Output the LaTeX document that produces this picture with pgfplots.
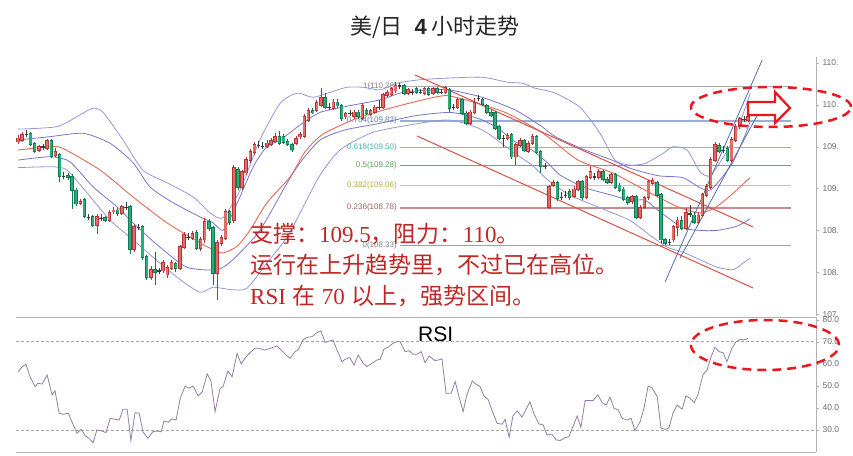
\documentclass[border=0pt]{standalone}
\usepackage{pgfplots}
\pgfplotsset{compat=1.18}
\usepackage{pgfplotstable}
\usepackage{fontspec}
\setmainfont{Liberation Sans}
\newfontfamily\cjk{Noto Sans CJK SC}
\newfontfamily\serif{Liberation Serif}
\definecolor{upfill}{RGB}{228,108,102}
\definecolor{upline}{RGB}{180,50,50}
\definecolor{dnfill}{RGB}{38,175,120}
\definecolor{dnline}{RGB}{18,120,82}
\definecolor{dojic}{RGB}{60,60,60}
\definecolor{bandout}{RGB}{150,150,215}
\definecolor{bandin}{RGB}{118,118,205}
\definecolor{mac}{RGB}{228,105,85}
\definecolor{chanred}{RGB}{215,80,70}
\definecolor{trendblue}{RGB}{80,110,170}
\definecolor{rsic}{RGB}{150,125,165}
\definecolor{annot}{RGB}{192,38,38}
\definecolor{ellred}{RGB}{230,25,30}
\definecolor{fibsix}{RGB}{150,175,210}
\definecolor{fibsixt}{RGB}{90,125,185}
\definecolor{fibsev}{RGB}{110,200,200}
\definecolor{fibsevt}{RGB}{70,175,175}
\definecolor{fibhalf}{RGB}{90,180,90}
\definecolor{fibhalft}{RGB}{80,165,80}
\definecolor{fibthr}{RGB}{205,205,110}
\definecolor{fibthrt}{RGB}{175,175,70}
\definecolor{fibtwo}{RGB}{200,140,140}
\definecolor{fibtwot}{RGB}{165,95,95}
\definecolor{fibone}{RGB}{170,170,170}
\definecolor{fibzero}{RGB}{160,160,160}

% rising candles (close above open)
\pgfplotstableread{
i o h l c
0 109.56 109.64 109.53 109.60
1 109.58 109.68 109.56 109.64
5 109.46 109.52 109.44 109.50
7 109.48 109.59 109.46 109.57
9 109.40 109.48 109.38 109.44
15 108.83 108.87 108.80 108.84
19 108.56 108.70 108.46 108.66
22 108.62 108.74 108.60 108.71
23 108.73 108.78 108.70 108.74
25 108.71 108.80 108.68 108.78
28 108.28 108.56 108.24 108.54
32 107.94 108.08 107.91 108.03
35 108.02 108.15 107.99 108.11
36 107.97 108.09 107.93 108.05
37 108.05 108.15 108.03 108.11
39 108.05 108.33 108.03 108.30
40 108.30 108.48 108.28 108.45
42 108.41 108.49 108.39 108.46
44 108.29 108.42 108.25 108.39
45 108.39 108.65 108.35 108.60
48 107.99 108.39 107.67 108.35
49 108.35 108.45 108.31 108.41
50 108.41 108.76 108.39 108.72
52 108.62 109.28 108.59 109.25
54 109.02 109.22 108.98 109.20
55 109.19 109.38 109.16 109.34
56 109.34 109.47 109.31 109.44
57 109.44 109.56 109.40 109.52
60 109.51 109.58 109.48 109.54
61 109.53 109.60 109.51 109.57
62 109.57 109.66 109.54 109.62
67 109.54 109.63 109.52 109.60
68 109.62 109.68 109.59 109.64
69 109.63 109.89 109.60 109.86
70 109.82 109.96 109.80 109.93
72 109.94 110.06 109.91 110.02
73 110.00 110.20 109.97 110.08
76 109.96 110.07 109.94 110.03
79 109.86 109.91 109.83 109.89
81 109.86 109.94 109.83 109.91
83 109.84 110.02 109.82 109.99
85 109.89 109.95 109.87 109.93
86 109.91 110.00 109.89 109.97
88 109.97 110.14 109.95 110.12
89 110.12 110.18 110.09 110.14
90 110.13 110.21 110.11 110.19
91 110.17 110.27 110.14 110.23
94 110.14 110.20 110.12 110.18
98 110.14 110.21 110.12 110.19
100 110.14 110.21 110.12 110.19
103 110.15 110.23 110.13 110.20
106 109.97 110.08 109.95 110.06
109 109.78 109.94 109.76 109.91
110 109.91 110.08 109.89 110.03
118 109.60 109.66 109.58 109.63
120 109.38 109.54 109.28 109.52
121 109.52 109.60 109.50 109.57
123 109.45 109.57 109.42 109.54
124 109.54 109.65 109.52 109.62
128 108.78 109.04 108.76 109.02
129 109.04 109.10 109.02 109.07
134 108.91 109.03 108.89 108.99
135 108.99 109.10 108.97 109.08
137 108.90 109.16 108.87 109.14
138 109.14 109.27 109.11 109.20
140 109.14 109.23 109.11 109.20
143 109.08 109.19 109.05 109.16
148 108.85 108.92 108.82 108.90
150 108.66 108.80 108.64 108.77
151 108.78 108.91 108.76 108.89
152 108.90 109.10 108.87 109.08
153 109.07 109.13 109.04 109.09
158 108.39 108.56 108.36 108.54
159 108.54 108.66 108.43 108.62
161 108.53 108.77 108.50 108.71
164 108.60 108.72 108.58 108.68
165 108.68 108.95 108.66 108.92
166 108.92 109.05 108.90 109.02
167 109.02 109.38 108.99 109.34
168 109.34 109.56 109.32 109.52
172 109.34 109.62 109.32 109.58
173 109.58 109.77 109.56 109.74
174 109.74 109.86 109.71 109.83
176 109.82 109.88 109.80 109.86
}\upc

% falling candles (close below open)
\pgfplotstableread{
i o h l c
3 109.65 109.68 109.51 109.53
4 109.53 109.56 109.42 109.45
8 109.57 109.59 109.37 109.39
10 109.40 109.42 109.08 109.15
12 109.15 109.19 109.10 109.14
13 109.14 109.17 108.76 108.98
14 108.98 109.01 108.79 108.82
16 108.87 108.89 108.65 108.67
18 108.66 108.68 108.54 108.56
21 108.65 108.67 108.60 108.62
24 108.74 108.77 108.67 108.71
27 108.78 108.80 108.22 108.28
30 108.54 108.56 108.15 108.18
31 108.18 108.21 107.91 107.94
33 108.03 108.24 107.85 108.00
38 108.10 108.12 108.00 108.05
43 108.47 108.50 108.27 108.29
46 108.60 108.64 108.49 108.53
47 108.53 108.55 107.85 107.99
51 108.72 108.74 108.56 108.60
53 109.22 109.26 108.98 109.02
63 109.62 109.69 109.52 109.54
64 109.62 109.65 109.53 109.56
65 109.56 109.59 109.51 109.53
66 109.52 109.54 109.44 109.47
71 109.93 109.96 109.89 109.91
74 110.08 110.14 109.95 109.97
77 110.03 110.07 109.96 109.99
78 109.99 110.01 109.81 109.84
82 109.91 109.94 109.83 109.86
84 109.93 109.96 109.88 109.90
93 110.23 110.25 110.12 110.14
96 110.19 110.21 110.13 110.15
99 110.19 110.21 110.11 110.13
101 110.19 110.21 110.13 110.15
104 110.18 110.20 109.91 109.96
107 110.06 110.08 109.88 109.90
108 109.90 109.93 109.76 109.78
112 110.06 110.08 109.99 110.01
113 109.99 110.01 109.89 109.91
114 109.91 109.94 109.86 109.88
115 109.90 109.93 109.70 109.72
116 109.74 109.76 109.58 109.60
119 109.64 109.66 109.35 109.38
122 109.57 109.59 109.44 109.46
125 109.62 109.64 109.41 109.44
126 109.44 109.46 109.19 109.27
130 109.07 109.09 108.85 108.89
133 108.96 108.99 108.86 108.90
136 109.08 109.10 108.87 108.90
141 109.20 109.22 109.09 109.11
142 109.11 109.14 109.05 109.08
144 109.16 109.19 108.99 109.02
145 109.04 109.07 108.96 108.98
146 108.99 109.02 108.85 108.87
147 108.89 108.91 108.80 108.84
149 108.90 108.92 108.64 108.66
154 109.07 109.09 108.90 108.92
155 108.92 108.95 108.35 108.39
156 108.39 108.41 108.33 108.35
160 108.62 108.67 108.50 108.53
163 108.68 108.72 108.58 108.60
169 109.51 109.54 109.42 109.45
171 109.48 109.51 109.32 109.34
}\dnc

% doji candles (open = close)
\pgfplotstableread{
i o h l c
2 109.65 109.70 109.62 109.65
6 109.50 109.53 109.46 109.50
11 109.15 109.20 109.11 109.15
17 108.66 108.70 108.62 108.66
20 108.65 108.70 108.61 108.65
26 108.78 108.84 108.74 108.78
29 108.54 108.58 108.50 108.54
34 108.02 108.05 107.98 108.02
41 108.42 108.47 108.39 108.42
58 109.52 109.57 109.48 109.52
59 109.51 109.56 109.47 109.51
75 109.97 110.02 109.94 109.97
80 109.90 109.94 109.87 109.90
87 109.97 110.06 109.94 109.97
92 110.23 110.26 110.19 110.23
95 110.15 110.19 110.12 110.15
97 110.15 110.19 110.13 110.15
102 110.15 110.19 110.13 110.15
105 109.97 110.01 109.94 109.97
111 110.08 110.12 110.05 110.08
117 109.60 109.64 109.50 109.60
127 109.27 109.31 109.23 109.27
131 108.90 108.96 108.86 108.90
132 108.92 108.97 108.89 108.92
139 109.14 109.19 109.10 109.14
157 108.36 108.40 108.33 108.36
162 108.70 108.80 108.66 108.70
170 109.46 109.51 109.42 109.46
175 109.83 109.87 109.80 109.83
}\dojit

\pgfplotstableread{
i r
0.0 56.4
1.0 58.7
1.9 59.8
2.9 54.1
4.1 49.6
4.8 51.2
5.8 50.8
7.0 54.9
8.2 45.9
8.9 47.8
9.9 37.6
10.8 37.1
12.1 37.6
13.3 32.3
14.2 28.5
15.2 30.3
16.2 27.3
17.1 26.2
18.1 24.2
19.0 30.0
20.3 29.5
21.2 28.8
22.2 35.3
23.4 34.8
24.4 34.5
25.3 39.4
26.3 39.4
27.2 25.2
28.2 37.8
29.2 37.6
30.1 29.2
31.3 26.2
32.5 29.2
33.5 29.5
34.5 29.2
35.2 34.1
36.2 33.5
37.1 35.0
38.1 34.5
39.1 44.4
40.3 49.9
41.2 48.9
42.2 49.9
43.4 45.4
44.4 47.3
45.6 55.4
46.5 52.3
47.5 38.3
48.7 48.9
49.4 49.6
50.6 56.7
51.6 54.1
52.8 64.7
53.8 59.9
54.7 62.5
55.9 65.0
57.1 67.0
58.1 67.0
59.5 66.2
60.8 67.0
62.4 68.1
63.6 65.9
64.6 64.0
65.6 62.5
66.8 65.5
67.5 66.2
68.7 70.8
69.7 72.0
70.9 72.3
71.8 73.8
73.0 75.0
74.0 69.7
74.7 70.0
75.9 70.8
76.9 66.2
78.1 60.9
78.8 62.0
80.0 62.8
81.0 59.4
82.0 64.0
83.2 60.2
84.1 58.7
85.3 60.2
86.5 61.7
87.3 62.0
88.2 66.6
89.2 67.5
90.4 69.3
91.4 70.0
92.1 70.0
93.3 65.5
94.3 65.9
95.2 64.3
96.2 64.3
97.2 65.5
98.1 60.5
99.1 63.5
100.5 61.4
101.3 61.7
102.2 62.2
103.2 46.6
104.4 46.6
105.4 51.9
106.3 45.1
107.3 38.3
108.2 45.9
109.5 52.2
110.4 50.8
111.4 49.6
112.3 45.4
113.3 43.9
114.5 37.6
115.5 33.0
116.7 32.6
117.4 34.8
118.4 26.7
119.3 36.3
120.3 38.6
121.5 35.8
122.5 39.4
123.4 42.8
124.4 37.2
125.6 32.7
126.6 32.3
127.5 27.7
128.7 28.1
129.7 25.5
130.7 25.2
131.9 26.5
132.8 27.0
133.8 31.5
134.8 36.3
135.7 31.2
136.7 43.3
137.7 43.3
138.6 43.3
139.8 45.9
140.8 42.4
141.8 41.3
142.7 44.8
143.7 39.8
144.7 39.1
145.6 35.3
146.8 34.5
147.8 35.3
148.7 29.7
150.0 33.8
150.9 39.8
151.9 49.9
152.8 49.2
154.1 45.1
155.0 30.8
156.0 30.3
156.9 30.8
157.9 37.6
158.9 41.3
160.1 39.4
161.0 45.4
162.0 44.4
163.0 42.4
163.9 45.9
165.1 54.9
166.1 57.2
167.1 63.2
168.0 67.5
169.0 65.5
170.0 65.0
170.9 60.9
172.1 67.0
173.1 70.0
174.1 71.1
175.0 70.8
176.0 71.5
}\rsidata

% #1 table, #2 colour
\newcommand{\cwick}[2]{%
\addplot[draw=none, mark=none, forget plot,
  error bars/.cd, y dir=both, y explicit, error mark=none,
  error bar style={solid, line width=0.6pt, draw=#2}]
  table[x=i, y expr=(\thisrow{h}+\thisrow{l})/2, y error expr=(\thisrow{h}-\thisrow{l})/2]{#1};}
% #1 table, #2 colour, #3 width, #4 extra half height
\newcommand{\cbody}[4]{%
\addplot[draw=none, mark=none, forget plot,
  error bars/.cd, y dir=both, y explicit, error mark=none,
  error bar style={solid, line width=#3, draw=#2}]
  table[x=i, y expr=(\thisrow{o}+\thisrow{c})/2, y error expr={max(abs(\thisrow{c}-\thisrow{o})/2+#4,0.003)}]{#1};}

\begin{document}
\begin{tikzpicture}
\useasboundingbox (0pt,0pt) rectangle (853pt,455pt);

% ---------------- main price panel ----------------
\begin{axis}[
  at={(16pt,139pt)}, anchor=south west, scale only axis,
  width=800pt, height=259pt,
  xmin=-0.5, xmax=192.38, ymin=107.477, ymax=110.572,
  axis x line=none, axis y line*=right,
  y axis line style={draw=gray!60, line width=0.7pt},
  ytick={107.5,108,108.5,109,109.5,110,110.5},
  yticklabels={107,108.,108.,109.,109.,110.,110.},
  tick align=outside, major tick length=3pt,
  ytick style={draw=gray!60},
  yticklabel style={font=\fontsize{8.5}{9}\selectfont, text=gray!85!black},
]
% Fibonacci levels
\addplot[fibone, line width=0.8pt] coordinates {(92.1,110.225) (186.4,110.225)};
\addplot[fibsix, line width=1.8pt] coordinates {(92.1,109.811) (186.4,109.811)};
\addplot[fibsev, line width=0.9pt] coordinates {(92.1,109.488) (186.4,109.488)};
\addplot[fibhalf, line width=0.9pt] coordinates {(92.1,109.273) (186.4,109.273)};
\addplot[fibthr, line width=0.9pt] coordinates {(92.1,109.042) (186.4,109.042)};
\addplot[fibtwo, line width=1.8pt] coordinates {(92.1,108.771) (186.4,108.771)};
\addplot[fibzero, line width=0.8pt] coordinates {(92.1,108.326) (186.4,108.326)};
\node[anchor=east, font=\fontsize{8}{9}\selectfont, text=gray, inner sep=1pt] at (axis cs:91.6,110.225) {1(110.28)};
\node[anchor=east, font=\fontsize{8}{9}\selectfont, text=fibsixt, inner sep=1pt] at (axis cs:91.6,109.811) {0.764(109.82)};
\node[anchor=east, font=\fontsize{8}{9}\selectfont, text=fibsevt, inner sep=1pt] at (axis cs:91.6,109.488) {0.618(109.50)};
\node[anchor=east, font=\fontsize{8}{9}\selectfont, text=fibhalft, inner sep=1pt] at (axis cs:91.6,109.273) {0.5(109.28)};
\node[anchor=east, font=\fontsize{8}{9}\selectfont, text=fibthrt, inner sep=1pt] at (axis cs:91.6,109.042) {0.382(109.06)};
\node[anchor=east, font=\fontsize{8}{9}\selectfont, text=fibtwot, inner sep=1pt] at (axis cs:91.6,108.771) {0.236(108.78)};
\node[anchor=east, font=\fontsize{8}{9}\selectfont, text=gray, inner sep=1pt] at (axis cs:91.6,108.326) {0(108.33)};

% Bollinger bands
\addplot[bandout, line width=0.8pt, smooth, tension=0.4] coordinates {
(0,109.71) (9.4,109.74) (14.9,109.88) (18.1,109.96) (20.5,109.91) (25.3,109.58) (30.1,109.22)
(35.9,109.07) (42.2,108.90) (46.3,108.71) (49.4,108.65) (53.5,108.98) (58.3,109.58) (63.2,110.02)
(67.3,110.14) (71.1,110.09) (75.2,110.15) (79.3,110.21) (83.2,110.21) (87.3,110.18) (91.4,110.26)
(96.9,110.30) (103.7,110.32) (111.9,110.33) (118.1,110.27) (121.5,110.26) (124.6,110.20) (129.5,110.14)
(135.5,109.97) (140.3,109.66) (143.9,109.34) (147.5,109.28) (151.2,109.30) (155.5,109.42) (157.9,109.50)
(161.3,109.46) (164.4,109.20) (166.8,109.15) (169.2,109.31) (172.4,109.58) (175.3,109.96) (176.5,110.14)};
\addplot[bandin, line width=0.8pt, smooth, tension=0.4] coordinates {
(0,109.58) (7.7,109.62) (15.7,109.66) (22.2,109.54) (27.7,109.31) (31.8,109.02) (37.4,108.83)
(43.9,108.66) (47.0,108.59) (49.4,108.50) (51.8,108.71) (56.7,109.26) (60.0,109.50) (63.2,109.58)
(68.0,109.76) (72.8,109.91) (80.0,109.99) (87.3,110.06) (92.1,110.14) (96.9,110.17) (103.7,110.18)
(111.9,110.09) (119.8,109.94) (126.3,109.74) (129.5,109.62) (136.7,109.46) (143.2,109.34) (147.1,109.25)
(151.2,109.19) (154.8,109.15) (160.3,109.13) (164.4,109.01) (166.8,108.98) (169.2,109.10) (172.4,109.32)
(175.3,109.64) (176.5,109.80)};
\addplot[bandin, line width=0.8pt, smooth, tension=0.4] coordinates {
(0,109.34) (7.7,109.38) (12.5,109.32) (18.1,109.02) (23.9,108.78) (27.7,108.59) (34.2,108.30)
(40.7,108.06) (48.0,108.03) (51.8,108.15) (58.3,108.50) (64.9,109.07) (68.0,109.31) (72.8,109.58)
(78.8,109.70) (87.3,109.78) (95.7,109.87) (103.7,109.91) (107.8,109.88) (111.9,109.82) (115.7,109.72)
(119.8,109.56) (123.9,109.46) (127.8,109.30) (130.7,109.16) (136.7,109.01) (143.2,108.92) (147.5,108.86)
(151.2,108.86) (154.8,108.72) (160.3,108.53) (164.4,108.50) (168.5,108.50) (173.3,108.55) (176.5,108.64)};
\addplot[bandout, line width=0.8pt, smooth, tension=0.4] coordinates {
(0,109.25) (8.4,109.26) (11.8,109.22) (16.6,108.95) (22.2,108.62) (27.7,108.39) (32.5,108.18)
(39.1,107.91) (43.9,107.76) (47.0,107.82) (51.8,107.79) (55.2,107.81) (60.0,108.11) (64.9,108.42)
(68.0,108.71) (72.8,109.16) (77.6,109.46) (84.9,109.66) (92.1,109.74) (103.7,109.82) (111.9,109.70)
(119.8,109.42) (123.9,109.28) (127.8,109.10) (133.1,108.92) (140.3,108.77) (147.5,108.62) (152.4,108.44)
(156.5,108.30) (160.3,108.24) (164.4,108.15) (168.5,108.06) (172.4,108.03) (174.8,108.11) (176.5,108.17)};
% moving average
\addplot[mac, line width=0.9pt, smooth, tension=0.4] coordinates {
(0,109.46) (7.7,109.50) (10.8,109.48) (19.8,109.22) (27.7,108.90) (35.9,108.59) (43.9,108.35)
(47.0,108.27) (49.4,108.23) (52.8,108.31) (55.9,108.50) (60.0,108.83) (65.6,109.14) (69.2,109.44)
(73.5,109.65) (81.7,109.84) (89.7,109.96) (97.6,110.06) (103.4,110.11) (110.7,110.02) (117.9,109.90)
(126.6,109.66) (135.0,109.34) (143.2,109.19) (151.2,108.98) (159.1,108.78) (164.4,108.71) (168.0,108.77)
(171.6,108.91) (176.5,109.13)};
% trend channels
\addplot[chanred, line width=1pt] coordinates {(95.7,110.357) (177.2,108.541)};
\addplot[chanred, line width=1pt] coordinates {(96.2,109.628) (177.2,107.812)};
\addplot[trendblue, line width=0.8pt] coordinates {(156.0,107.884) (179.4,110.536)};
\addplot[trendblue, line width=0.8pt] coordinates {(159.6,108.170) (178.9,109.939)};

% candles
\cwick{\upc}{upline}
\cwick{\dnc}{dnline}
\cwick{\dojit}{dojic}
\cbody{\upc}{upline}{3.5pt}{0.009}
\cbody{\upc}{upfill}{2.1pt}{-0.001}
\cbody{\dnc}{dnline}{3.5pt}{0.009}
\cbody{\dnc}{dnfill}{2.1pt}{-0.001}
\cbody{\dojit}{dojic}{3.4pt}{0.004}
\end{axis}

% ---------------- RSI panel ----------------
\begin{axis}[
  at={(16pt,3pt)}, anchor=south west, scale only axis,
  width=800pt, height=135pt,
  xmin=-0.5, xmax=192.38, ymin=20, ymax=81.2,
  axis x line*=box, axis y line*=right,
  axis line style={draw=gray!60, line width=0.7pt},
  xtick=\empty,
  ytick={30,40,50,60,70,80},
  yticklabels={30.0,40.0,50.0,60.0,70.0,80.0},
  tick align=outside, major tick length=3pt,
  ytick style={draw=gray!60},
  yticklabel style={font=\fontsize{8.5}{9}\selectfont, text=gray!85!black},
]
\addplot[gray!70, line width=0.6pt, dash pattern=on 3pt off 2pt] coordinates {(-0.5,70) (192.38,70)};
\addplot[gray!70, line width=0.6pt, dash pattern=on 3pt off 2pt] coordinates {(-0.5,30) (192.38,30)};
\addplot[rsic, line width=0.8pt] table[x=i, y=r]{\rsidata};
\end{axis}

% ---------------- texts and annotations ----------------
\node[anchor=center, text=black!85] at (435pt,428pt)
  {\fontsize{22}{26}\selectfont{\cjk 美/日}\hspace{12pt}\textbf{4}\hspace{5pt}{\cjk 小时走势}};
\node[anchor=base west, inner sep=0pt, text=black] at (418pt,113pt)
  {\fontsize{21}{24}\selectfont RSI};

\begin{scope}[every node/.style={anchor=base west, inner sep=0pt, text=annot}]
\node at (250pt,212pt) {\fontsize{23}{27}\selectfont{\cjk 支撑：}{\serif 109.5}{\cjk ，阻力：}{\serif 110}{\cjk 。}};
\node at (250pt,181pt) {\fontsize{23}{27}\selectfont{\cjk 运行在上升趋势里，不过已在高位。}};
\node at (250pt,150pt) {\fontsize{23}{27}\selectfont{\serif RSI} {\cjk 在} {\serif 70} {\cjk 以上，强势区间。}};
\end{scope}

% arrow and dashed ellipses
\draw[ellred, line width=2.3pt, fill=white, line join=miter]
  (748pt,353pt) -- (775pt,353pt) -- (775pt,363pt) -- (790pt,347pt) -- (775pt,332pt) -- (775pt,340pt) -- (748pt,340pt) -- cycle;
\draw[ellred, line width=2.5pt, dash pattern=on 9pt off 6pt] (771pt,348pt) ellipse [x radius=80pt, y radius=20pt];
\draw[ellred, line width=2.5pt, dash pattern=on 9pt off 6pt] (765pt,110pt) ellipse [x radius=74pt, y radius=25pt];
\end{tikzpicture}
\end{document}
